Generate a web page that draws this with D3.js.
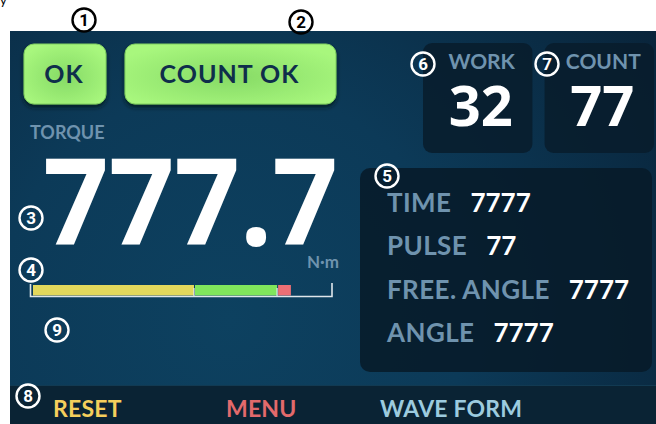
<!DOCTYPE html>
<html>
<head>
<meta charset="utf-8">
<script src="https://cdn.jsdelivr.net/npm/d3@7"></script>
<style>
  html, body { margin: 0; padding: 0; background: #fff; }
  svg { display: block; font-family: Lato, "Noto Sans", sans-serif; font-weight: 700; }
</style>
</head>
<body>
<div id="screen"></div>
<script>
// ---- values ----
const statusButtons = ['OK', 'COUNT OK'];
const counterLabels = ['WORK', 'COUNT'];
const counterValues = [32, 77];
const torqueLabel = 'TORQUE';
const torqueValue = '777.7';
const torqueUnit = 'N\u00b7m';
const barBounds = [0, 54, 81.7, 86.3];   // yellow | green | red segment edges (0..100 scale)
const barMax = 100;
const infoLabels = ['TIME', 'PULSE', 'FREE. ANGLE', 'ANGLE'];
const infoValues = ['7777', '77', '7777', '7777'];
const footerLabels = ['RESET', 'MENU', 'WAVE FORM'];
const markerNumbers = [1, 2, 3, 4, 5, 6, 7, 8, 9];

// ---- layout / styles ----
const W = 656, H = 424;
const segColors = ['#e3d85c', '#80e65c', '#ec6f75'];
const footerColors = ['#f5cf5c', '#e26a6c', '#9ccbdf'];
const footerX = [53, 226, 380];
const labelGray = '#6f93ae';
const numFont = '"Noto Sans", Lato, sans-serif';
const markerPos = [
  [84, 20, 'light'], [301, 22, 'light'], [31, 218, 'dark'], [31, 270, 'dark'],
  [387, 176, 'dark'], [423, 64, 'dark'], [547, 64, 'dark'], [28, 396, 'dark'], [57, 330, 'dark']
];

const svg = d3.select('#screen').append('svg')
  .attr('width', W).attr('height', H)
  .attr('viewBox', `0 0 ${W} ${H}`);

const defs = svg.append('defs');
const bg = defs.append('radialGradient').attr('id', 'bgGrad')
  .attr('gradientUnits', 'userSpaceOnUse')
  .attr('cx', 230).attr('cy', 320).attr('r', 520);
bg.append('stop').attr('offset', '0%').attr('stop-color', '#0d4160');
bg.append('stop').attr('offset', '45%').attr('stop-color', '#0c3a58');
bg.append('stop').attr('offset', '100%').attr('stop-color', '#09243a');

const btnGrad = defs.append('radialGradient').attr('id', 'btnGrad')
  .attr('cx', '50%').attr('cy', '55%').attr('r', '60%');
btnGrad.append('stop').attr('offset', '0%').attr('stop-color', '#86da66');
btnGrad.append('stop').attr('offset', '100%').attr('stop-color', '#a8f77d');

const shadow = defs.append('filter').attr('id', 'shadow')
  .attr('x', '-20%').attr('y', '-20%').attr('width', '140%').attr('height', '150%');
shadow.append('feDropShadow').attr('dx', 0).attr('dy', 3).attr('stdDeviation', 2)
  .attr('flood-color', '#03121c').attr('flood-opacity', 0.8);

// tiny cropped glyph at the very top-left
svg.append('text').attr('x', 0).attr('y', 5).attr('font-size', 13)
  .attr('font-weight', 400).attr('fill', '#000').text('y');

// screen panel
svg.append('rect').attr('x', 10).attr('y', 31).attr('width', W - 10).attr('height', H - 31)
  .attr('fill', 'url(#bgGrad)');

// ---- status buttons ----
const btnBox = [[24, 44, 82, 60], [125, 44, 211, 60]];
const btns = svg.selectAll('.btn').data(statusButtons).enter().append('g').attr('class', 'btn');
btns.append('rect')
  .attr('x', (d, i) => btnBox[i][0]).attr('y', (d, i) => btnBox[i][1])
  .attr('width', (d, i) => btnBox[i][2]).attr('height', (d, i) => btnBox[i][3])
  .attr('rx', 10).attr('fill', 'url(#btnGrad)')
  .attr('stroke', '#7fcf60').attr('stroke-width', 1)
  .attr('filter', 'url(#shadow)');
btns.append('text')
  .attr('x', (d, i) => btnBox[i][0] + btnBox[i][2] / 2 - 1)
  .attr('y', (d, i) => btnBox[i][1] + 39)
  .attr('text-anchor', 'middle').attr('font-size', 25).attr('letter-spacing', 1)
  .attr('fill', '#0f2e4b')
  .text(d => d);

// ---- counters ----
const cx = d3.scaleBand().domain(counterLabels).range([423, 654]).paddingInner(0.1);
const ctr = svg.selectAll('.ctr').data(counterLabels).enter().append('g').attr('class', 'ctr');
ctr.append('rect')
  .attr('x', d => cx(d)).attr('y', 43).attr('width', cx.bandwidth()).attr('height', 110)
  .attr('rx', 9).attr('fill', '#081c2b').attr('opacity', 0.85);
ctr.append('text')
  .attr('x', d => cx(d) + cx.bandwidth() / 2 + 4).attr('y', 69)
  .attr('text-anchor', 'middle').attr('font-size', 21).attr('fill', labelGray)
  .text(d => d);
ctr.append('text')
  .attr('x', d => cx(d) + cx.bandwidth() / 2 + 3).attr('y', 126)
  .attr('text-anchor', 'middle').attr('font-size', 56).attr('font-family', numFont)
  .attr('fill', '#fff')
  .text((d, i) => counterValues[i]);

// ---- torque ----
svg.append('text').attr('x', 30).attr('y', 139).attr('font-size', 18)
  .attr('fill', labelGray).text(torqueLabel);
svg.append('text').attr('x', 43).attr('y', 245).attr('font-size', 120)
  .attr('font-family', numFont)
  .attr('fill', '#fff').attr('textLength', 295).attr('lengthAdjust', 'spacingAndGlyphs')
  .text(torqueValue);
svg.append('text').attr('x', 339).attr('y', 268).attr('text-anchor', 'end')
  .attr('font-size', 17).attr('fill', labelGray).text(torqueUnit);

// ---- torque bar ----
const bx = d3.scaleLinear().domain([0, barMax]).range([32, 332]);
const segs = d3.pairs(barBounds);
svg.selectAll('.seg').data(segs).enter().append('rect')
  .attr('x', d => bx(d[0]) + 1).attr('y', 285)
  .attr('width', d => bx(d[1]) - bx(d[0]) - 1).attr('height', 10.5)
  .attr('fill', (d, i) => segColors[i]);
svg.selectAll('.segtick').data(barBounds.slice(1, 3)).enter().append('line')
  .attr('x1', d => bx(d)).attr('x2', d => bx(d)).attr('y1', 288).attr('y2', 296)
  .attr('stroke', '#e8eef2').attr('stroke-width', 1.2);
svg.append('path')
  .attr('d', `M${bx(0) - 1.5},284 V296.5 H${bx(barMax)} V283`)
  .attr('fill', 'none').attr('stroke', '#dfe6eb').attr('stroke-width', 1.6);

// ---- info panel ----
svg.append('rect').attr('x', 360).attr('y', 168).attr('width', 292).attr('height', 204)
  .attr('rx', 10).attr('fill', '#071a28').attr('opacity', 0.85);
const iy = d3.scalePoint().domain(infoLabels).range([212, 342]);
const rows = svg.selectAll('.row').data(infoLabels).enter().append('g').attr('class', 'row');
rows.append('text').attr('class', 'lbl')
  .attr('x', 387).attr('y', d => iy(d))
  .attr('font-size', 26).attr('letter-spacing', 0.4).attr('fill', labelGray).text(d => d);
rows.append('text')
  .attr('x', function(d) {
    const lbl = this.parentNode.querySelector('.lbl');
    return 387 + lbl.getComputedTextLength() + 19;
  })
  .attr('y', d => iy(d))
  .attr('font-size', 26).attr('fill', '#fff')
  .text((d, i) => infoValues[i]);

// ---- footer ----
svg.append('rect').attr('x', 10).attr('y', 385).attr('width', W - 10).attr('height', H - 385)
  .attr('fill', '#0a2334');
svg.append('line').attr('x1', 10).attr('x2', W).attr('y1', 385.5).attr('y2', 385.5)
  .attr('stroke', '#123a52').attr('stroke-width', 1);
svg.selectAll('.foot').data(footerLabels).enter().append('text')
  .attr('x', (d, i) => footerX[i]).attr('y', 417)
  .attr('font-size', 23).attr('letter-spacing', 0.2).attr('fill', (d, i) => footerColors[i])
  .text(d => d);

// ---- numbered markers ----
const mk = svg.selectAll('.mk').data(markerNumbers).enter().append('g').attr('class', 'mk')
  .attr('transform', (d, i) => `translate(${markerPos[i][0]},${markerPos[i][1]})`);
mk.append('circle').attr('r', 11.5).attr('fill', 'none')
  .attr('stroke', (d, i) => markerPos[i][2] === 'light' ? '#000' : '#fff')
  .attr('stroke-width', 2.4);
mk.append('text').attr('text-anchor', 'middle').attr('dy', '0.36em')
  .attr('font-size', 17).attr('font-family', 'Roboto, sans-serif').attr('font-weight', 700)
  .attr('fill', (d, i) => markerPos[i][2] === 'light' ? '#000' : '#fff')
  .text(d => d);
</script>
</body>
</html>
